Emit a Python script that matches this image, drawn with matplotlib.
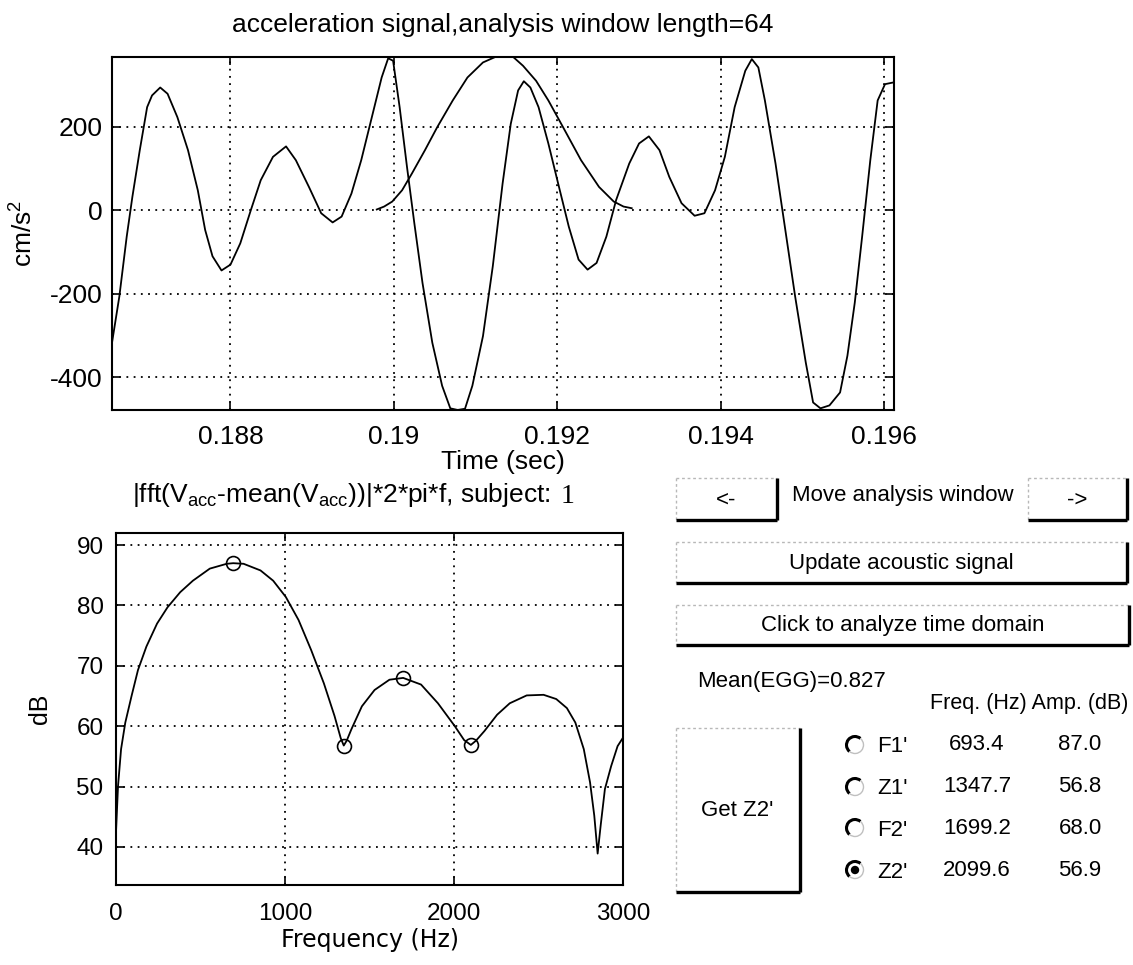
import matplotlib
matplotlib.use('Agg')
import matplotlib.pyplot as plt
from matplotlib.patches import Arc, Circle

plt.rcParams['font.family'] = ['Liberation Sans', 'DejaVu Sans']
plt.rcParams['mathtext.fontset'] = 'custom'
plt.rcParams['mathtext.rm'] = 'Liberation Sans'
plt.rcParams['mathtext.default'] = 'regular'

# acceleration signal (cm/s^2) in the analysis window
t_acc = [0.18655, 0.18664, 0.18673, 0.18680, 0.18689, 0.18698, 0.18704, 0.18714,
         0.18723, 0.18735, 0.18748, 0.18760, 0.18769, 0.18778, 0.18789, 0.18800,
         0.18812, 0.18825, 0.18837, 0.18852, 0.18868, 0.18880, 0.18896, 0.18911,
         0.18925, 0.18936, 0.18948, 0.18960, 0.18973, 0.18985, 0.18993, 0.18999,
         0.19007, 0.19016, 0.19025, 0.19035, 0.19047, 0.19059, 0.19069, 0.19078,
         0.19087, 0.19096, 0.19109, 0.19121, 0.19133, 0.19143, 0.19152, 0.19159,
         0.19167, 0.19177, 0.19189, 0.19201, 0.19214, 0.19226, 0.19237, 0.19248,
         0.19260, 0.19272, 0.19288, 0.19300, 0.19312, 0.19325, 0.19337, 0.19352,
         0.19368, 0.19380, 0.19393, 0.19405, 0.19417, 0.19430, 0.19438, 0.19446,
         0.19454, 0.19467, 0.19479, 0.19491, 0.19504, 0.19513, 0.19522, 0.19533,
         0.19546, 0.19555, 0.19564, 0.19573, 0.19583, 0.19592, 0.19601, 0.19611]
acc = [-317, -206, -63, 33, 144, 247, 275, 294,
       279, 223, 144, 48, -47, -110, -144, -130,
       -79, 1, 72, 128, 153, 120, 56, -7,
       -29, -15, 40, 120, 223, 318, 364, 358,
       247, 104, -31, -174, -317, -420, -474, -478,
       -475, -420, -301, -134, 64, 207, 287, 309,
       294, 247, 160, 64, -39, -118, -142, -126,
       -63, 25, 112, 160, 177, 144, 80, 17,
       -13, -7, 48, 128, 247, 334, 362, 342,
       263, 112, -47, -206, -364, -460, -474, -467,
       -436, -348, -221, -63, 120, 263, 302, 306]

# smooth pulse drawn over the acceleration trace
t_egg = [0.18979, 0.18988, 0.18998, 0.19010, 0.19022, 0.19038, 0.19053, 0.19072,
         0.19090, 0.19109, 0.19124, 0.19146, 0.19158, 0.19174, 0.19189, 0.19207,
         0.19229, 0.19251, 0.19269, 0.19281, 0.19291]
egg = [2, 9, 21, 48, 88, 144, 199, 263,
       318, 354, 367, 367, 346, 310, 263, 199,
       120, 56, 21, 9, 5]

# spectrum (dB)
freq = [0, 12, 30, 55, 92, 130, 180, 243, 305, 380, 455, 555, 655, 693.4, 755, 855,
        930, 1005, 1080, 1155, 1230, 1293, 1330, 1347.7, 1365, 1393, 1455, 1530,
        1618, 1699.2, 1805, 1905, 2005, 2060, 2099.6, 2130, 2180, 2255, 2330, 2430,
        2530, 2605, 2668, 2718, 2768, 2805, 2830, 2850, 2868, 2893, 2930, 2968, 3000]
spec_db = [42.5, 50.1, 56.2, 60.6, 65.0, 69.3, 73.2, 77.0, 79.7, 82.2, 84.1, 86.1,
           86.9, 87.0, 86.9, 85.8, 84.1, 81.4, 77.6, 72.6, 67.1, 61.7, 58.0, 56.8,
           57.6, 59.5, 63.3, 66.0, 67.7, 68.0, 66.9, 63.8, 60.0, 57.7, 56.9, 57.6,
           59.2, 61.9, 63.8, 65.1, 65.2, 64.5, 63.0, 60.6, 56.2, 50.7, 45.2, 38.9,
           43.6, 49.6, 53.4, 56.7, 58.1]

# formants / zeros table
names = ["F1'", "Z1'", "F2'", "Z2'"]
pk_freq = [693.4, 1347.7, 1699.2, 2099.6]
pk_amp = [87.0, 56.8, 68.0, 56.9]
selected = 3

W, H = 1133, 965
fig = plt.figure(figsize=(W / 100, H / 100), dpi=100)

grid_kw = dict(color='black', linestyle=(0, (1, 3)), linewidth=1.3)

# ---- top: time signal
ax1 = fig.add_axes([112 / W, 1 - 410 / H, 782 / W, 353 / H])
ax1.plot(t_acc, acc, color='black', lw=1.3)
ax1.plot(t_egg, egg, color='black', lw=1.3)
ax1.set_xlim(0.18655, 0.19612)
ax1.set_ylim(-478, 367)
ax1.set_xticks([0.188, 0.19, 0.192, 0.194, 0.196])
ax1.set_xticklabels(['0.188', '0.19', '0.192', '0.194', '0.196'])
ax1.set_yticks([-400, -200, 0, 200])
ax1.set_yticklabels(['-400', '-200', '0', '200'])
ax1.grid(True, **grid_kw)
ax1.tick_params(direction='in', length=6, width=1.2, top=True, right=True,
                labelsize=19)
ax1.tick_params(axis='x', pad=11)
ax1.tick_params(axis='y', pad=7)
for s in ax1.spines.values():
    s.set_linewidth(1.5)

# ---- bottom: spectrum
ax2 = fig.add_axes([116 / W, 1 - 885 / H, 507 / W, 352 / H])
ax2.plot(freq, spec_db, color='black', lw=1.3)
ax2.plot(pk_freq, pk_amp, 'o', mfc='none', mec='black', ms=10, mew=1.2)
ax2.set_xlim(0, 3000)
ax2.set_ylim(33.7, 92.0)
ax2.set_xticks([0, 1000, 2000, 3000])
ax2.set_yticks([40, 50, 60, 70, 80, 90])
ax2.grid(True, **grid_kw)
ax2.tick_params(direction='in', length=6, width=1.2, top=True, right=True,
                labelsize=17.5)
ax2.tick_params(axis='x', pad=13)
ax2.tick_params(axis='y', pad=9)
for s in ax2.spines.values():
    s.set_linewidth(1.5)

# ---- texts in pixel space
def fx(x):
    return x / W

def fy(y):
    return 1 - y / H

fig.text(fx(503), fy(25), 'acceleration signal,analysis window length=64',
         ha='center', va='center', fontsize=19)
fig.text(fx(24), fy(233), 'cm/s$^2$', rotation=90, ha='center', va='center',
         fontsize=19)
t1 = fig.text(fx(132), fy(502), '|fft(V$_{acc}$-mean(V$_{acc}$))|*2*pi*f, subject:',
              ha='left', va='baseline', fontsize=19)
fig.text(fx(503), fy(462), 'Time (sec)', ha='center', va='center', fontsize=19)
fig.text(fx(40), fy(709), 'dB', rotation=90, ha='center', va='center', fontsize=18)
fig.text(fx(370), fy(940), 'Frequency (Hz)', ha='center', va='center',
         fontsize=17, family='DejaVu Sans')

# ---- GUI controls overlay
ov = fig.add_axes([0, 0, 1, 1], zorder=-1)
ov.set_xlim(0, W)
ov.set_ylim(H, 0)
ov.axis('off')

fig.canvas.draw()
ov.annotate('1', xy=(1, 0), xycoords=t1, xytext=(7, 0), textcoords='offset points',
            va='bottom', ha='left', fontsize=20, family='Liberation Serif')


def button(x0, y0, x1, y1, label=None, size=16):
    ov.plot([x0, x1], [y0, y0], color='#b8b8b8', lw=1, ls=(0, (2, 2)))
    ov.plot([x0, x0], [y0, y1], color='#b8b8b8', lw=1, ls=(0, (2, 2)))
    ov.plot([x1, x1], [y0, y1], color='black', lw=2.4, solid_capstyle='butt')
    ov.plot([x0, x1], [y1, y1], color='black', lw=2.4, solid_capstyle='butt')
    if label:
        ov.text((x0 + x1) / 2, (y0 + y1) / 2 + 1, label, ha='center',
                va='center', fontsize=size)


button(676, 478, 777, 520, '<-')
button(1028, 478, 1127, 520, '->')
ov.text(903, 496, 'Move analysis window', ha='center', va='center', fontsize=16)
button(676, 542, 1127, 583, 'Update acoustic signal')
button(676, 605, 1129, 645, 'Click to analyze time domain')
ov.text(697, 682, 'Mean(EGG)=0.827', ha='left', va='center', fontsize=16)
ov.text(1128, 703, 'Freq. (Hz) Amp. (dB)', ha='right', va='center', fontsize=15.5)
button(676, 728, 800, 892)
ov.text(737, 810, "Get Z2'", ha='center', va='center', fontsize=16)

rows_y = [745, 787, 828, 870]
for i, (nm, f, a) in enumerate(zip(names, pk_freq, pk_amp)):
    y = rows_y[i]
    ov.add_patch(Arc((855, y), 17, 17, theta1=130, theta2=310, color='black', lw=2.2))
    ov.add_patch(Arc((855, y), 17, 17, theta1=-50, theta2=130, color='#c0c0c0', lw=1))
    if i == selected:
        ov.add_patch(Circle((855, y), 3.5, color='black'))
    ov.text(877, y + 2, nm, ha='left', va='center', fontsize=16)
    ov.text(977, y, f'{f:.1f}', ha='center', va='center', fontsize=16)
    ov.text(1080, y, f'{a:.1f}', ha='center', va='center', fontsize=16)

fig.savefig('out.png', dpi=100)
